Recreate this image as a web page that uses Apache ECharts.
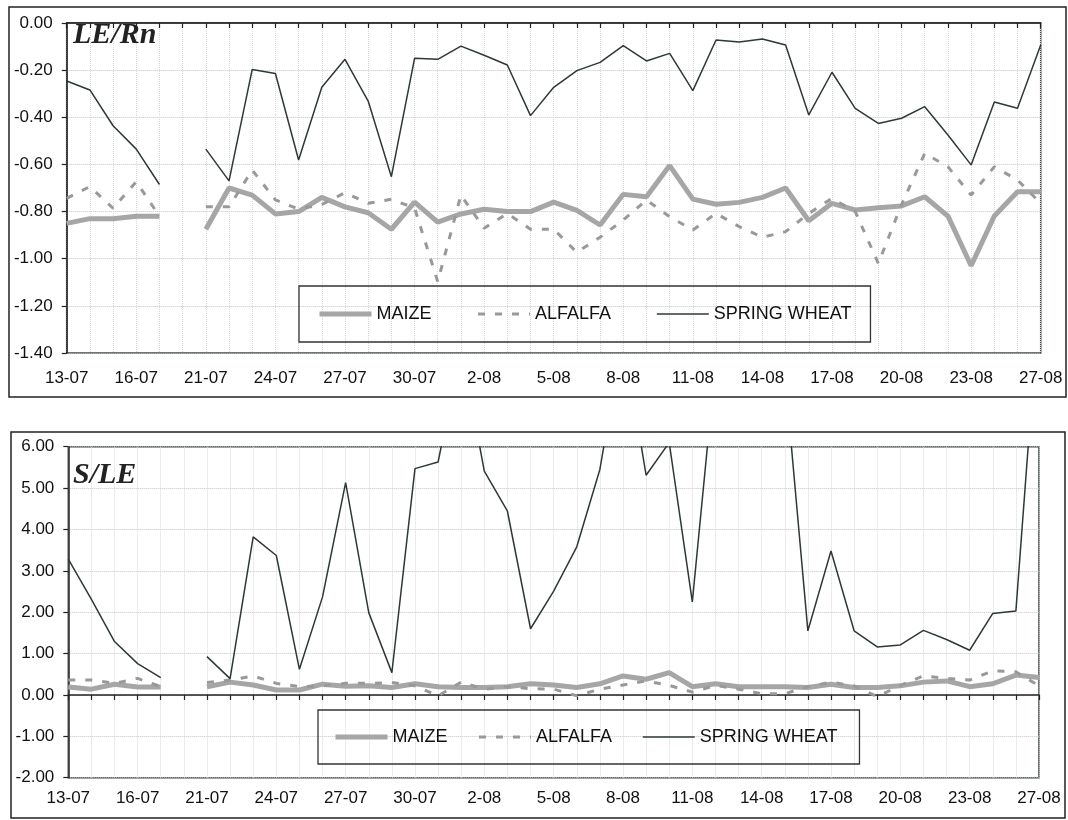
<!DOCTYPE html>
<html>
<head>
<meta charset="utf-8">
<script src="https://cdn.jsdelivr.net/npm/echarts@6/dist/echarts.min.js"></script>
<style>html,body{margin:0;padding:0;background:#fff}#c{width:1068px;height:820px}</style>
</head>
<body>
<div id="c"></div>
<script>
const categories = ['13-07','14-07','15-07','16-07','17-07','20-07','21-07','22-07','23-07','24-07','25-07','26-07','27-07','28-07','29-07','30-07','31-07','1-08','2-08','3-08','4-08','5-08','6-08','7-08','8-08','9-08','10-08','11-08','12-08','13-08','14-08','15-08','16-08','17-08','18-08','19-08','20-08','21-08','22-08','23-08','24-08','25-08','27-08'];

const seriesNames = ['MAIZE', 'ALFALFA', 'SPRING WHEAT'];

// LE/Rn panel
const leRnMaize = [-0.85,-0.83,-0.83,-0.82,-0.82,null,-0.875,-0.70,-0.73,-0.81,-0.80,-0.74,-0.78,-0.805,-0.875,-0.76,-0.845,-0.81,-0.79,-0.80,-0.80,-0.76,-0.795,-0.857,-0.727,-0.737,-0.605,-0.747,-0.769,-0.761,-0.74,-0.70,-0.839,-0.765,-0.793,-0.784,-0.776,-0.737,-0.819,-1.03,-0.819,-0.716,-0.716];
const leRnAlfalfa = [-0.744,-0.694,-0.786,-0.673,-0.82,null,-0.78,-0.78,-0.624,-0.75,-0.79,-0.77,-0.72,-0.765,-0.748,-0.785,-1.097,-0.73,-0.871,-0.808,-0.875,-0.875,-0.973,-0.909,-0.836,-0.751,-0.822,-0.878,-0.808,-0.864,-0.909,-0.885,-0.808,-0.744,-0.80,-1.02,-0.77,-0.553,-0.61,-0.73,-0.61,-0.666,-0.765];
const leRnWheat = [-0.246,-0.284,-0.436,-0.535,-0.685,null,-0.535,-0.67,-0.197,-0.214,-0.581,-0.273,-0.154,-0.331,-0.652,-0.150,-0.154,-0.098,-0.137,-0.178,-0.393,-0.273,-0.202,-0.167,-0.096,-0.161,-0.129,-0.287,-0.072,-0.081,-0.068,-0.093,-0.39,-0.209,-0.362,-0.426,-0.404,-0.355,-0.475,-0.602,-0.335,-0.362,-0.093];

// S/LE panel
const sLeMaize = [0.19,0.14,0.26,0.19,0.19,null,0.20,0.31,0.24,0.12,0.12,0.26,0.21,0.22,0.18,0.27,0.20,0.18,0.18,0.20,0.27,0.24,0.18,0.27,0.46,0.38,0.54,0.20,0.27,0.20,0.20,0.20,0.18,0.26,0.18,0.18,0.22,0.31,0.34,0.20,0.27,0.48,0.42];
const sLeAlfalfa = [0.36,0.36,0.28,0.40,0.20,null,0.30,0.36,0.46,0.28,0.20,0.22,0.28,0.28,0.30,0.22,-0.02,0.31,0.14,0.20,0.15,0.14,-0.02,0.14,0.24,0.34,0.23,0.07,0.23,0.14,0.03,0.03,0.20,0.31,0.22,-0.04,0.23,0.46,0.40,0.36,0.58,0.56,0.22];
const sLeWheat = [3.28,2.31,1.29,0.757,0.42,null,0.926,0.395,3.82,3.37,0.62,2.37,5.13,1.99,0.54,5.47,5.63,8.4,5.41,4.44,1.60,2.51,3.58,5.45,8.7,5.31,6.1,2.25,8.0,9.0,9.5,7.8,1.55,3.48,1.55,1.16,1.21,1.56,1.34,1.08,1.97,2.03,9.5];

const panelTitles = ['LE/Rn', 'S/LE'];

const sans = 'Liberation Sans, Arial, sans-serif';
const serif = 'Liberation Serif, Times New Roman, serif';
const maizeColor = '#a6a6a6', alfalfaColor = '#999999', wheatColor = '#2e3838';

function xAxis(gridIndex, labelMargin) {
  return {
    type: 'category', gridIndex, data: categories, boundaryGap: false,
    axisLine: { lineStyle: { color: '#222', width: 1.5 } },
    axisTick: { show: true, interval: 0, length: 5, lineStyle: { color: '#222', width: 1.2 } },
    axisLabel: { interval: 2, color: '#111', fontFamily: sans, fontSize: 17, margin: labelMargin },
    splitLine: { show: true, interval: 0, lineStyle: { type: 'dotted', color: '#d9d9d9', width: 1 } }
  };
}
function yAxis(gridIndex, min, max, interval) {
  return {
    type: 'value', gridIndex, min, max, interval,
    axisLine: { show: true, lineStyle: { color: '#222', width: 1.5 } },
    axisTick: { show: true, length: 5, lineStyle: { color: '#222', width: 1.2 } },
    axisLabel: { color: '#111', fontFamily: sans, fontSize: 17, margin: 14,
      formatter: v => (Math.abs(v) < 1e-9 ? 0 : v).toFixed(2) },
    splitLine: { show: true, lineStyle: { type: 'dotted', color: '#c4c4c4', width: 1 } }
  };
}
function makeSeries(idx, maize, alfalfa, wheat) {
  return [
    { name: seriesNames[0], type: 'line', xAxisIndex: idx, yAxisIndex: idx, data: maize, symbol: 'none',
      lineStyle: { color: maizeColor, width: 5 }, itemStyle: { color: maizeColor }, z: 2 },
    { name: seriesNames[1], type: 'line', xAxisIndex: idx, yAxisIndex: idx, data: alfalfa, symbol: 'none',
      lineStyle: { color: alfalfaColor, width: 3, type: [7, 10] }, itemStyle: { color: alfalfaColor }, z: 3 },
    { name: seriesNames[2], type: 'line', xAxisIndex: idx, yAxisIndex: idx, data: wheat, symbol: 'none',
      lineStyle: { color: wheatColor, width: 1.5 }, itemStyle: { color: wheatColor }, z: 4 }
  ];
}
function legend(left, top, padding, gap) {
  return {
    data: seriesNames, left, top, orient: 'horizontal', padding, itemGap: gap,
    itemWidth: 52, itemHeight: 14, borderColor: '#333', borderWidth: 1.3,
    lineStyle: { width: 'inherit', type: 'inherit' },
    itemStyle: { color: 'rgba(0,0,0,0)', borderWidth: 0, opacity: 0 },
    textStyle: { color: '#111', fontFamily: sans, fontSize: 18 },
    selectedMode: false
  };
}

const chart = echarts.init(document.getElementById('c'), null, { renderer: 'canvas' });
chart.setOption({
  animation: false,
  backgroundColor: '#fff',
  title: [
    { text: panelTitles[0], left: 73, top: 20, padding: 0,
      textStyle: { fontFamily: serif, fontStyle: 'italic', fontWeight: 'bold', fontSize: 30, color: '#222' } },
    { text: panelTitles[1], left: 73, top: 460, padding: 0,
      textStyle: { fontFamily: serif, fontStyle: 'italic', fontWeight: 'bold', fontSize: 30, color: '#222' } }
  ],
  grid: [
    { left: 66.7, right: 27.3, top: 23, height: 330, show: true, borderColor: '#3b4545', borderWidth: 1.5, backgroundColor: 'transparent' },
    { left: 68.3, right: 29, top: 446.7, height: 331, show: true, borderColor: '#3b4545', borderWidth: 1.5, backgroundColor: 'transparent' }
  ],
  legend: [legend(299, 286, [19, 19, 19, 18], 45), legend(318, 710, [18, 22, 18, 15], 30)],
  xAxis: [xAxis(0, 17), xAxis(1, 12)],
  yAxis: [yAxis(0, -1.4, 0, 0.2), yAxis(1, -2, 6, 1)],
  series: [...makeSeries(0, leRnMaize, leRnAlfalfa, leRnWheat), ...makeSeries(1, sLeMaize, sLeAlfalfa, sLeWheat)],
  graphic: [
    { type: 'rect', shape: { x: 9, y: 7, width: 1057, height: 390 }, style: { fill: 'none', stroke: '#222', lineWidth: 1.5 }, silent: true, z: -1 },
    { type: 'rect', shape: { x: 11, y: 432, width: 1054, height: 386 }, style: { fill: 'none', stroke: '#222', lineWidth: 1.5 }, silent: true, z: -1 }
  ]
});
</script>
</body>
</html>
